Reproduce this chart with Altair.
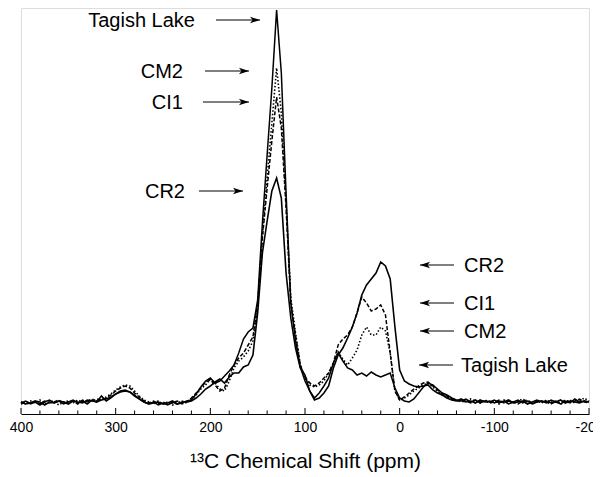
import altair as alt
import pandas as pd

# chemical shift sampling grid (ppm)
ppm = [400, 395, 390, 385, 380, 375, 370, 365, 360, 355,
       350, 345, 340, 335, 330, 325, 320, 315, 310, 305,
       300, 295, 290, 285, 280, 275, 270, 265, 260, 255,
       250, 245, 240, 235, 230, 225, 220, 215, 210, 205,
       200, 195, 190, 185, 180, 175, 170, 165, 160, 155,
       150, 145, 140, 135, 130, 125, 120, 115, 110, 105,
       100, 95, 90, 85, 80, 75, 70, 65, 60, 55,
       50, 45, 40, 35, 30, 25, 20, 15, 10, 5,
       0, -5, -10, -15, -20, -25, -30, -35, -40, -45,
       -50, -55, -60, -65, -70, -75, -80, -85, -90, -95,
       -100, -105, -110, -115, -120, -125, -130, -135, -140, -145,
       -150, -155, -160, -165, -170, -175, -180, -185, -190, -195,
       -200]

tagish = [0, 2, -1, 1, -2, 1, 3, 0, 2, -1,
          1, 3, 0, 2, -1, 3, 1, 7, 2, 5,
          9, 12, 13, 11, 8, 4, 1, -1, 1, -2,
          0, -2, 1, -1, 0, 2, 3, 9, 16, 22,
          25, 20, 22, 27, 32, 38, 50, 64, 71, 75,
          103, 180, 248, 315, 393, 330, 210, 100, 62, 36,
          22, 12, 5, 10, 17, 25, 40, 50, 42, 35,
          33, 28, 30, 27, 31, 28, 26, 28, 30, 15,
          5, 2, 1, 4, 10, 16, 20, 18, 14, 10,
          8, 5, 3, 2, 4, 1, 3, 0, 2, 1,
          3, 0, 2, -1, 1, 3, 0, 2, -1, 1,
          2, 0, 3, 1, -1, 2, 0, 4, 1, 2,
          1]

cm2 = [1, -1, 2, 0, 3, -1, 1, 2, -2, 1,
       2, 0, 3, 1, 2, 4, 2, 3, 6, 9,
       13, 16, 18, 17, 12, 7, 3, 1, -1, 2,
       -1, 1, -2, 0, 2, 0, 4, 8, 14, 18,
       24, 20, 14, 12, 22, 35, 42, 46, 52, 62,
       96, 168, 225, 280, 335, 290, 200, 105, 70, 38,
       25, 18, 16, 18, 22, 30, 40, 51, 44, 38,
       45, 53, 68, 76, 68, 68, 76, 72, 50, 12,
       3, 5, 8, 12, 15, 18, 20, 16, 12, 8,
       6, 4, 2, 3, 1, 4, 2, 0, 3, 1,
       2, -1, 3, 1, 0, 2, 4, 1, -1, 2,
       0, 3, 1, 2, -1, 1, 3, 0, 2, 5,
       2]

ci1 = [-1, 1, 0, 2, -1, 2, 0, 1, 3, 0,
       1, 2, -1, 3, 1, 2, 4, 3, 5, 8,
       12, 15, 17, 15, 10, 6, 2, 0, 2, -1,
       1, -1, 0, 2, -1, 1, 5, 10, 15, 21,
       23, 18, 12, 15, 28, 38, 45, 50, 58, 66,
       98, 165, 215, 262, 306, 275, 195, 100, 68, 38,
       26, 20, 17, 20, 25, 30, 40, 58, 64, 68,
       76, 90, 106, 100, 92, 94, 98, 88, 50, 12,
       3, 6, 10, 14, 17, 20, 21, 17, 13, 9,
       7, 4, 3, 1, 2, 0, 3, 1, 2, 0,
       1, 3, 0, 2, 1, -1, 2, 3, 0, 1,
       2, 1, -1, 2, 0, 3, 1, 2, 4, 1,
       0]

cr2 = [1, -1, 0, 2, 1, -2, 1, 0, 2, 1,
       -1, 2, 1, 0, 3, 2, 1, 3, 4, 6,
       9, 11, 12, 11, 7, 4, 1, -1, 0, 1,
       -1, 0, 2, -1, 1, 1, 2, 5, 9, 14,
       17, 21, 24, 20, 26, 30, 30, 36, 38, 48,
       90, 150, 182, 212, 225, 205, 130, 85, 55, 35,
       28, 12, 3, 5, 10, 17, 35, 48, 55, 65,
       76, 90, 108, 118, 124, 130, 141, 137, 124, 76,
       33, 22, 19, 17, 16, 17, 18, 13, 10, 8,
       5, 3, 2, 4, 1, 2, 0, 3, 1, 2,
       0, 2, 1, 3, 0, 1, 2, -1, 1, 3,
       1, 2, 0, 1, 3, 0, 2, 1, 0, 2,
       1]

# axis ticks
major_ticks = [400, 300, 200, 100, 0, -100, -200]
minor_ticks = [380, 360, 340, 320, 280, 260, 240, 220, 180, 160, 140, 120,
               80, 60, 40, 20, -20, -40, -60, -80, -120, -140, -160, -180]

# annotations (left side, arrows pointing right)
left_labels = ["Tagish Lake", "CM2", "CI1", "CR2"]
left_text_ppm = [216.2, 228.9, 228.9, 226.8]
left_tail = [194.0, 205.6, 207.8, 212.0]
left_tip = [147.5, 159.2, 159.2, 165.5]
left_int = [383, 332, 301, 212]

# annotations (right side, arrows pointing left)
right_labels = ["CR2", "CI1", "CM2", "Tagish Lake"]
right_text_ppm = [-68.0, -68.0, -68.0, -64.8]
right_tip = [-21.5, -21.5, -21.5, -20.5]
right_tail = [-57.4, -57.4, -57.4, -56.3]
right_int = [138, 100, 72, 38]

FONT = "Liberation Sans"

xscale = alt.Scale(domain=[400, -200], nice=False, zero=False)
yscale = alt.Scale(domain=[-11, 395], nice=False, zero=False)
xaxis = alt.Axis(values=major_ticks, labelExpr="'' + datum.value",
                 ticks=False, tickSize=0,
                 grid=False, domainColor="black", domainWidth=1,
                 labelFontSize=14, labelFont=FONT, labelColor="black",
                 labelPadding=6, labelFlush=False, labelOverlap=False,
                 title="¹³C Chemical Shift (ppm)", titleFont=FONT,
                 titleFontSize=21, titleFontWeight="normal",
                 titleColor="black", titlePadding=16)


def X(field):
    return alt.X(field, type="quantitative", scale=xscale, axis=xaxis)


def Y(field):
    return alt.Y(field, type="quantitative", scale=yscale, axis=None)


styles = {
    "Tagish Lake": dict(strokeWidth=1.5),
    "CM2": dict(strokeWidth=1.6, strokeDash=[1.5, 2]),
    "CI1": dict(strokeWidth=1.5, strokeDash=[4, 2]),
    "CR2": dict(strokeWidth=1.6),
}
series = {"Tagish Lake": tagish, "CM2": cm2, "CI1": ci1, "CR2": cr2}

layers = []
for name in ["CM2", "CI1", "CR2", "Tagish Lake"]:
    df = pd.DataFrame({"ppm": ppm, "I": series[name]})
    layers.append(
        alt.Chart(df).mark_line(color="black", interpolate="linear",
                                **styles[name]).encode(x=X("ppm"), y=Y("I"))
    )

# inward ticks
maj_df = pd.DataFrame({"ppm": major_ticks})
min_df = pd.DataFrame({"ppm": minor_ticks})
layers.append(alt.Chart(maj_df).mark_rule(color="black", strokeWidth=1).encode(
    x=X("ppm"), y=alt.value(400), y2=alt.value(406)))
layers.append(alt.Chart(min_df).mark_rule(color="black", strokeWidth=1).encode(
    x=X("ppm"), y=alt.value(402.5), y2=alt.value(406)))

# left annotations
ldf = pd.DataFrame({"label": left_labels, "tppm": left_text_ppm,
                    "ppm": left_tail, "ppm2": left_tip, "I": left_int})
layers.append(alt.Chart(ldf).mark_rule(color="black", strokeWidth=1).encode(
    x=X("ppm"), x2=alt.X2("ppm2"), y=Y("I")))
layers.append(alt.Chart(ldf).mark_point(
    shape="M0,0L-2,-0.65L-1.5,0L-2,0.65Z", size=100, filled=True,
    color="black", opacity=1, strokeWidth=0).encode(x=X("ppm2"), y=Y("I")))
layers.append(alt.Chart(ldf).mark_text(
    align="right", baseline="middle", font=FONT, fontSize=20,
    color="black", dy=1).encode(x=X("tppm"), y=Y("I"), text="label:N"))

# right annotations
rdf = pd.DataFrame({"label": right_labels, "tppm": right_text_ppm,
                    "ppm": right_tip, "ppm2": right_tail, "I": right_int})
layers.append(alt.Chart(rdf).mark_rule(color="black", strokeWidth=1).encode(
    x=X("ppm"), x2=alt.X2("ppm2"), y=Y("I")))
layers.append(alt.Chart(rdf).mark_point(
    shape="M0,0L2,-0.65L1.5,0L2,0.65Z", size=100, filled=True,
    color="black", opacity=1, strokeWidth=0).encode(x=X("ppm"), y=Y("I")))
layers.append(alt.Chart(rdf).mark_text(
    align="left", baseline="middle", font=FONT, fontSize=20,
    color="black", dy=1).encode(x=X("tppm"), y=Y("I"), text="label:N"))

chart = alt.layer(*layers).properties(
    width=568, height=406,
    autosize=alt.AutoSizeParams(type="none"),
    padding={"left": 13, "top": 0, "right": 4, "bottom": 61},
).configure_view(stroke=None).configure(background="white")

chart.save("out.html", embed_options={"renderer": "svg", "actions": False})
